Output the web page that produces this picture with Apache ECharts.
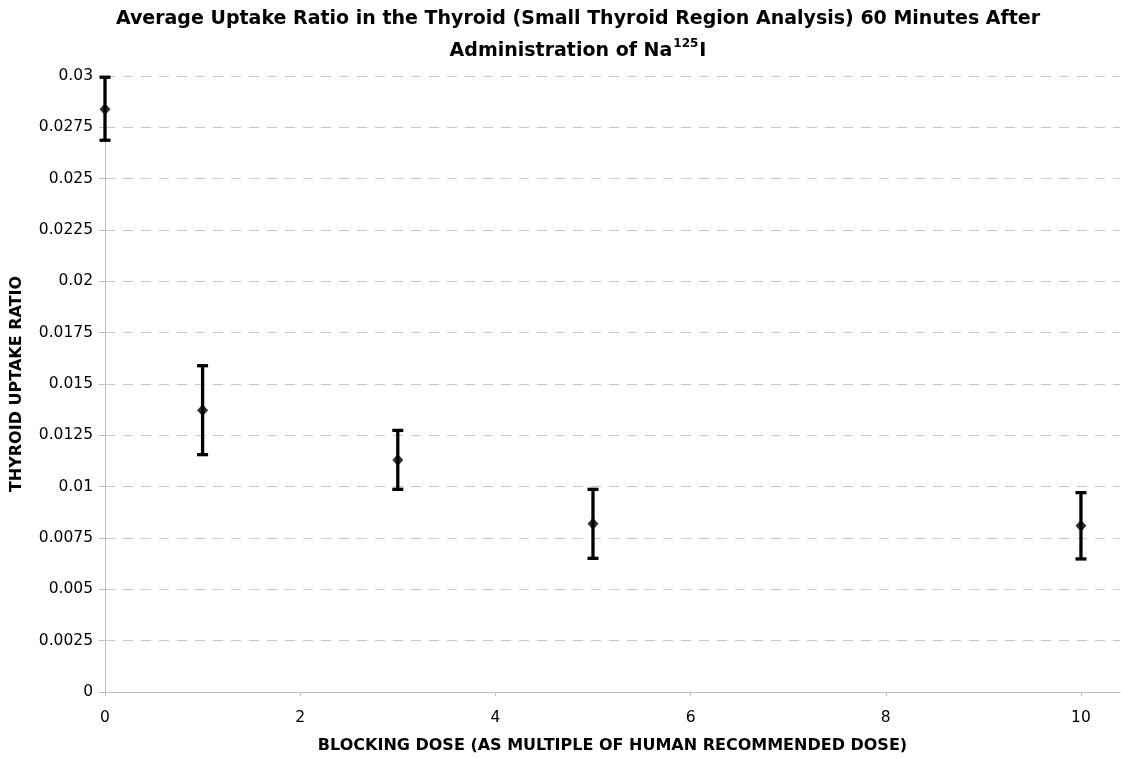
<!DOCTYPE html>
<html>
<head>
<meta charset="utf-8">
<script src="https://cdn.jsdelivr.net/npm/echarts@6/dist/echarts.min.js"></script>
<style>html,body{margin:0;padding:0;background:#fff}#c{width:1122px;height:759px}</style>
</head>
<body>
<div id="c"></div>
<script>
var doses = [0, 1, 3, 5, 10];
var meanRatio = [0.02838, 0.01372, 0.0113, 0.0082, 0.0081];
var upperRatio = [0.02994, 0.01589, 0.01274, 0.00987, 0.00971];
var lowerRatio = [0.02687, 0.01156, 0.00987, 0.00651, 0.00648];
var xTicks = [0, 2, 4, 6, 8, 10];
var yTicks = [0, 0.0025, 0.005, 0.0075, 0.01, 0.0125, 0.015, 0.0175, 0.02, 0.0225, 0.025, 0.0275, 0.03];

var chart = echarts.init(document.getElementById('c'));
var font = 'DejaVu Sans, Verdana, sans-serif';
var errData = doses.map(function (d, i) { return [d, lowerRatio[i], upperRatio[i]]; });
var ptData = doses.map(function (d, i) { return [d, meanRatio[i]]; });

chart.setOption({
  animation: false,
  backgroundColor: '#fff',
  title: {
    text: '{t|Average Uptake Ratio in the Thyroid (Small Thyroid Region Analysis) 60 Minutes After}\n{t|Administration of Na}{s|125}{t|I}',
    left: 573,
    textAlign: 'center',
    top: -2,
    textStyle: {
      fontFamily: font, fontWeight: 'bold', fontSize: 19, color: '#000', lineHeight: 32,
      rich: {
        t: { fontFamily: font, fontWeight: 'bold', fontSize: 19, color: '#000', lineHeight: 32 },
        s: { fontFamily: font, fontWeight: 'bold', fontSize: 12, color: '#000', lineHeight: 12, verticalAlign: 'top', padding: [3, 1, 0, 1] }
      }
    }
  },
  grid: { left: 105, right: 2, top: 76, bottom: 67, containLabel: false, outerBoundsMode: 'none' },
  xAxis: {
    type: 'value', min: 0, max: 10.4,
    name: 'BLOCKING DOSE (AS MULTIPLE OF HUMAN RECOMMENDED DOSE)',
    nameLocation: 'middle', nameGap: 46,
    nameTextStyle: { fontFamily: font, fontWeight: 'bold', fontSize: 16, color: '#000' },
    axisLine: { show: true, lineStyle: { color: '#bfbfbf', width: 1 } },
    axisTick: { show: true, length: 4, lineStyle: { color: '#bfbfbf' }, customValues: xTicks },
    axisLabel: { fontFamily: font, fontSize: 15.5, color: '#000', margin: 18, customValues: xTicks },
    splitLine: { show: false }
  },
  yAxis: {
    type: 'value', min: 0, max: 0.03, interval: 0.0025,
    name: 'THYROID UPTAKE RATIO',
    nameLocation: 'middle', nameGap: 80, nameRotate: 90,
    nameTextStyle: { fontFamily: font, fontWeight: 'bold', fontSize: 16, color: '#000' },
    axisLine: { show: true, lineStyle: { color: '#bfbfbf', width: 1 } },
    axisTick: { show: true, length: 6, lineStyle: { color: '#bfbfbf' } },
    axisLabel: {
      fontFamily: font, fontSize: 15.5, color: '#000', margin: 12,
      formatter: function (v) { return String(parseFloat(v.toFixed(5))); }
    },
    splitLine: { show: true, lineStyle: { color: '#c8c8c8', type: [10, 8], width: 1 } }
  },
  series: [
    {
      type: 'custom',
      data: errData,
      z: 3,
      renderItem: function (params, api) {
        var x = api.value(0);
        var lo = api.coord([x, api.value(1)]);
        var hi = api.coord([x, api.value(2)]);
        var hw = 5.5;
        var st = { stroke: '#000', lineWidth: 3.3 };
        return {
          type: 'group',
          children: [
            { type: 'line', shape: { x1: hi[0], y1: hi[1], x2: lo[0], y2: lo[1] }, style: st },
            { type: 'line', shape: { x1: hi[0] - hw, y1: hi[1], x2: hi[0] + hw, y2: hi[1] }, style: st },
            { type: 'line', shape: { x1: lo[0] - hw, y1: lo[1], x2: lo[0] + hw, y2: lo[1] }, style: st }
          ]
        };
      }
    },
    {
      type: 'scatter',
      data: ptData,
      symbol: 'diamond',
      symbolSize: [11, 12],
      itemStyle: { color: '#000' },
      z: 4
    }
  ]
});
</script>
</body>
</html>
